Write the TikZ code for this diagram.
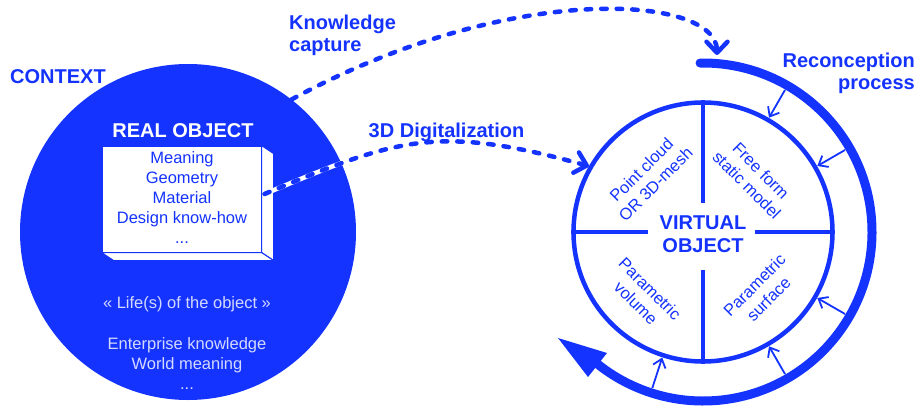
\documentclass[tikz,border=0pt]{standalone}
\usepackage{fontspec}
\setmainfont{Liberation Sans}
\usetikzlibrary{arrows.meta,calc}
\definecolor{vblue}{HTML}{1433FF}
\definecolor{lav}{HTML}{D4D9FF}
\begin{document}
\begin{tikzpicture}[x=1pt,y=1pt,
  boldlabel/.style={font=\bfseries\fontsize{20}{22}\selectfont, text=vblue, inner sep=0pt},
  normtext/.style={font=\fontsize{16.5}{20}\selectfont, inner sep=0pt, align=center},
  dashconn/.style={draw=vblue, line width=4.5pt, line cap=round, dash pattern=on 5.5pt off 10pt, -{Straight Barb[length=11pt,width=21pt,round]}},
  radarrow/.style={draw=vblue, line width=1.8pt, -{Straight Barb[length=8pt,width=13pt]}},
  crossline/.style={draw=vblue, line width=4.5pt},
  facestyle/.style={fill=white, draw=vblue, line width=1pt, line join=round}
]
\useasboundingbox (0,0) rectangle (920,408);
\fill[white] (0,0) rectangle (920,408);

% ---------- left: context ----------
\node[circle, fill=vblue, minimum size=336pt, inner sep=0pt] (ctx) at (188,176) {};
\node[boldlabel, anchor=base west] (ctxlabel) at (10,325) {CONTEXT};
\node[boldlabel, text=white, anchor=base] (rolabel) at (183,271) {REAL OBJECT};
\node[facestyle, minimum width=159pt, minimum height=106pt, inner sep=0pt] (ro) at (181.5,209) {};
\filldraw[facestyle] (ro.north east) -- ($(ro.north east)+(12,-8)$) -- ($(ro.south east)+(12,-8)$) -- (ro.south east) -- cycle;
\filldraw[facestyle] (ro.south west) -- ($(ro.south west)+(12,-8)$) -- ($(ro.south east)+(12,-8)$) -- (ro.south east) -- cycle;
\node[normtext, text=vblue, anchor=north] (rotext) at (182,257) {Meaning\\Geometry\\Material\\Design know-how\\...};
\node[normtext, text=lav, anchor=base] (life) at (187,100) {« Life(s) of the object »};
\node[normtext, text=lav, anchor=north] (world) at (187,71) {Enterprise knowledge\\World meaning\\...};

% ---------- right: virtual object ----------
\node[circle, draw=vblue, line width=4.5pt, minimum size=259pt, inner sep=0pt] (vo) at (703,176) {};
\coordinate (vtop) at (703,205);
\coordinate (vbot) at (703,138);
\coordinate (vlft) at (648,176);
\coordinate (vrgt) at (755,176);
\draw[crossline] (vo.north) -- (vtop);
\draw[crossline] (vbot) -- (vo.south);
\draw[crossline] (vo.west) -- (vlft);
\draw[crossline] (vrgt) -- (vo.east);
\node[boldlabel, align=center, anchor=north, font=\bfseries\fontsize{20}{23.5}\selectfont] (vot) at (703,192.5) {VIRTUAL\\OBJECT};
\node[normtext, text=vblue, rotate=45] (q1) at (648.5,231) {Point cloud\\OR 3D-mesh};
\node[normtext, text=vblue, rotate=-45] (q2) at (754,230) {Free form\\static model};
\node[normtext, text=vblue, rotate=-45] (q3) at (643,112) {Parametric\\volume};
\node[normtext, text=vblue, rotate=45] (q4) at (761.5,116) {Parametric\\surface};

% ---------- reconception arc ----------
\coordinate (arcS) at ($(vo.center)+(91:169)$);
\draw[vblue, line width=9pt, line cap=round] (arcS) arc[start angle=91, end angle=-128.6, radius=169];
\coordinate (tipA) at (558,70);
\coordinate (tipB) at (607,55);
\coordinate (tipC) at (588,31);
\fill[vblue] (tipA) -- (tipB) -- (tipC) -- cycle;
\foreach \a in {60,30,-30,-60,-108}
  \draw[radarrow] ($(vo.center)+(\a:164)$) -- ($(vo.center)+(\a:132)$);

% ---------- dashed connectors ----------
\coordinate (kend) at (717,353);
\draw[dashconn] (ctx.52.5) .. controls (511,428) and (717,413) .. (kend);
\coordinate (dstart) at ($(ro.east)+(3,5)$);
\draw[white, line width=4.5pt, line cap=round, shorten >=30pt] (dstart) .. controls (398,270) and (437,284) .. (vo.150);
\draw[dashconn] (dstart) .. controls (398,270) and (437,284) .. (vo.150);

% ---------- labels ----------
\node[boldlabel, align=left, anchor=north west] (kc) at (289,393.5) {Knowledge\\capture};
\node[boldlabel, anchor=base] (dig) at (446.5,271) {3D Digitalization};
\node[boldlabel, align=right, anchor=north east] (rp) at (915,355) {Reconception\\process};
\end{tikzpicture}
\end{document}
